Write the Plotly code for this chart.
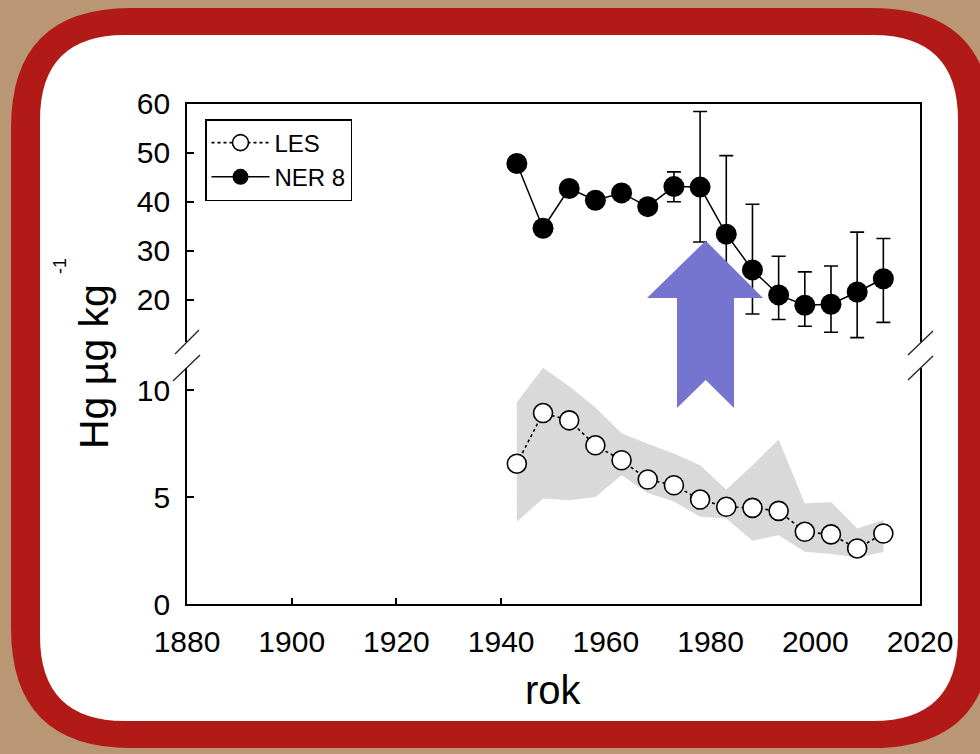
import plotly.graph_objects as go

# ---------------- data ----------------
years = [1943, 1948, 1953, 1958, 1963, 1968, 1973, 1978, 1983, 1988, 1993, 1998, 2003, 2008, 2013]
les = [6.57, 8.94, 8.60, 7.43, 6.73, 5.83, 5.56, 4.89, 4.55, 4.50, 4.36, 3.38, 3.26, 2.60, 3.30]
les_band_hi = [9.45, 11.06, 10.2, 9.2, 8.0, 7.5, 7.05, 6.5, 5.36, 6.5, 7.7, 4.71, 4.78, 3.54, 3.93]
les_band_lo = [3.85, 4.94, 4.86, 5.01, 6.03, 5.2, 4.8, 4.08, 4.0, 2.96, 3.22, 2.45, 2.34, 2.18, 2.44]
ner = [47.8, 34.6, 42.7, 40.3, 41.8, 39.0, 43.1, 43.0, 33.4, 26.1, 21.0, 18.9, 19.1, 21.6, 24.3]
ner_err_plus = [0, 0, 0, 0, 0, 0, 3.0, 15.4, 16.0, 13.4, 7.9, 6.8, 7.8, 12.2, 8.2]
ner_err_minus = [0, 0, 0, 0, 0, 0, 3.1, 11.2, 16.0, 9.0, 5.0, 4.3, 5.7, 9.3, 8.9]
x_ticks = [1880, 1900, 1920, 1940, 1960, 1980, 2000, 2020]
x_minor_ticks = [1900, 1920, 1940]
y_low_ticks = [0, 5, 10]
y_up_ticks = [20, 30, 40, 50, 60]

W, H = 980, 754
def px(x):
    return x / W
def py(y):
    return 1 - y / H

def rrect(x0, y0, x1, y1, r):
    pts = [
        f"M{px(x0 + r)},{py(y0)}",
        f"L{px(x1 - r)},{py(y0)}",
        f"Q{px(x1)},{py(y0)} {px(x1)},{py(y0 + r)}",
        f"L{px(x1)},{py(y1 - r)}",
        f"Q{px(x1)},{py(y1)} {px(x1 - r)},{py(y1)}",
        f"L{px(x0 + r)},{py(y1)}",
        f"Q{px(x0)},{py(y1)} {px(x0)},{py(y1 - r)}",
        f"L{px(x0)},{py(y0 + r)}",
        f"Q{px(x0)},{py(y0)} {px(x0 + r)},{py(y0)}",
        "Z",
    ]
    return " ".join(pts)

def poly(points):
    s = "M" + " L".join(f"{px(a)},{py(b)}" for a, b in points) + " Z"
    return s

FONT = "Liberation Sans"
BLACK = "#000000"

fig = go.Figure()

# LES band
fig.add_trace(go.Scatter(
    x=years + years[::-1], y=les_band_hi + les_band_lo[::-1],
    fill="toself", fillcolor="#d9d9d9", line=dict(width=0),
    mode="lines", showlegend=False, hoverinfo="skip", xaxis="x", yaxis="y"))

fig.add_trace(go.Scatter(
    x=years, y=les, name="LES", mode="lines+markers",
    line=dict(color=BLACK, width=1.6, dash="dot"),
    marker=dict(symbol="circle", size=19, color="white", line=dict(color=BLACK, width=1.6)),
    xaxis="x", yaxis="y"))

fig.add_trace(go.Scatter(
    x=years, y=ner, name="NER 8", mode="lines+markers",
    line=dict(color=BLACK, width=1.5),
    marker=dict(symbol="circle", size=21, color=BLACK),
    error_y=dict(type="data", array=ner_err_plus, arrayminus=ner_err_minus,
                 color=BLACK, thickness=1.6, width=7, visible=True),
    xaxis="x2", yaxis="y2"))

xdom = [px(187), px(920)]
axis_common = dict(showgrid=False, zeroline=False, showline=True, linecolor=BLACK, linewidth=1.6)
tickfont = dict(family=FONT, size=30, color=BLACK)

shapes = [
    dict(type="path", xref="paper", yref="paper", path=rrect(11, 8, 992, 748, 120),
         fillcolor="#b11a17", line=dict(width=0), layer="below"),
    dict(type="path", xref="paper", yref="paper", path=rrect(40, 35, 958, 721, 85),
         fillcolor="white", line=dict(width=0), layer="below"),
    # arrow
    dict(type="path", xref="paper", yref="paper", layer="above",
         path=poly([(705.7, 240.7), (763, 298), (734, 298), (734, 408), (705.7, 380),
                    (677, 408), (677, 298), (647, 298)]),
         fillcolor="#7575cf", line=dict(width=0)),
]
# axis break marks
for (a, b, c, d) in [(175, 354, 199, 330), (173, 381, 200, 355), (908, 355, 933, 331), (908, 380, 933, 356)]:
    shapes.append(dict(type="line", xref="paper", yref="paper", x0=px(a), y0=py(b), x1=px(c), y1=py(d),
                       line=dict(color="#222222", width=1.3), layer="above"))

fig.update_layout(
    width=W, height=H,
    margin=dict(l=0, r=0, t=0, b=0, autoexpand=False),
    paper_bgcolor="#b99674",
    plot_bgcolor="rgba(0,0,0,0)",
    shapes=shapes,
    xaxis=dict(domain=xdom, range=[1880, 2020], anchor="y", tickvals=x_ticks, ticks="",
               tickfont=tickfont, ticklabelstandoff=10, automargin=False,
               minor=dict(tickvals=x_minor_ticks, ticks="inside", ticklen=6, tickcolor=BLACK, tickwidth=1.5),
               **axis_common),
    xaxis2=dict(domain=xdom, range=[1880, 2020], anchor="y2", side="top", matches="x",
                showticklabels=False, ticks="", automargin=False, **axis_common),
    yaxis=dict(domain=[py(604), py(368)], range=[0, 11.05], anchor="x", tickvals=y_low_ticks,
               ticks="inside", ticklen=7, tickwidth=1.5, tickcolor=BLACK, mirror=True,
               tickfont=tickfont, ticklabelstandoff=9, automargin=False, **axis_common),
    yaxis2=dict(domain=[py(342), py(103.7)], range=[11.4, 60], anchor="x2", tickvals=y_up_ticks,
                ticks="inside", ticklen=7, tickwidth=1.5, tickcolor=BLACK, mirror=True,
                tickfont=tickfont, ticklabelstandoff=9, automargin=False, **axis_common),
    legend=dict(x=px(205), y=py(119), xanchor="left", yanchor="top",
                bgcolor="white", bordercolor=BLACK, borderwidth=1.5,
                font=dict(family=FONT, size=24, color=BLACK), itemwidth=58,
                entrywidth=100, traceorder="normal"),
    annotations=[
        dict(text="Hg µg kg", xref="paper", yref="paper", x=px(94), y=py(367),
             textangle=-90, showarrow=False, xanchor="center", yanchor="middle",
             font=dict(family=FONT, size=41, color=BLACK)),
        dict(text="-1", xref="paper", yref="paper", x=px(60), y=py(266),
             textangle=-90, showarrow=False, xanchor="center", yanchor="middle",
             font=dict(family=FONT, size=18, color=BLACK)),
        dict(text="rok", xref="paper", yref="paper", x=px(553), y=py(690),
             showarrow=False, xanchor="center", yanchor="middle",
             font=dict(family=FONT, size=40, color=BLACK)),
    ],
)

fig.write_html("out.html")
